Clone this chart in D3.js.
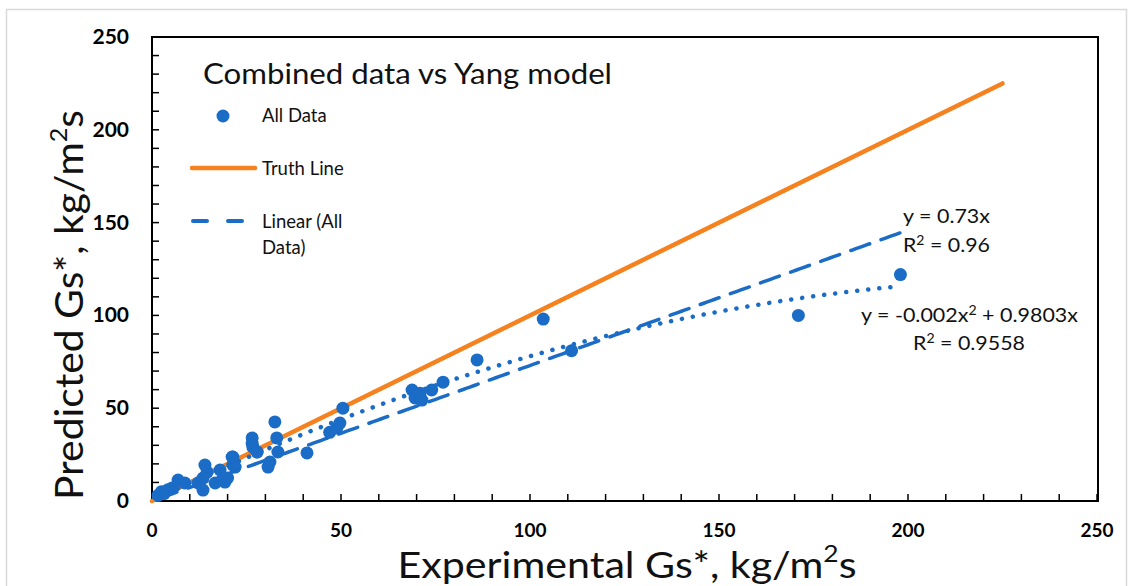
<!DOCTYPE html>
<html><head><meta charset="utf-8">
<script src="https://cdn.jsdelivr.net/npm/d3@7"></script>
<style>body{margin:0;background:#fff}svg{display:block}</style>
</head><body>
<svg id="c" width="1132" height="586"></svg>
<script>
// Data
const expX = [1.6,2.5,3.2,4.2,5.3,6.9,8.7,12.2,13.5,13.5,14.6,14,16.7,18,19.3,20,21.2,21.4,21.4,22,26.5,26.5,26.7,27.8,27.8,30.7,31.2,32.5,33,33.3,41,47,48.9,49.7,50.5,68.8,69.6,70.9,71.4,74,77,86,103.5,111,171,198];
const predY = [3,5,4,6,7,11.3,9.7,9.7,12.4,5.9,15.6,19.4,9.7,16.7,10.2,12.4,23.7,19.4,23.7,18.3,31,34,29,26.4,26.4,18.3,21,42.6,34,26.4,25.9,37,39.3,42,50,59.8,55.5,58,54.4,59.8,64,76,98,81,100,122];
const truthLine = [[0,0],[225,225]];
const linearSlope = 0.73;      // y = 0.73x
const polyA = -0.002, polyB = 0.9803; // y = -0.002x^2 + 0.9803x
const xTicks = [0,50,100,150,200,250];
const yTicks = [0,50,100,150,200,250];

const svg = d3.select("#c");
const blue = "#1a6cc6", orange = "#f5821f";
const font = "Lato, 'Open Sans', sans-serif";

// outer frame
svg.append("rect").attr("x",6.5).attr("y",9.5).attr("width",1120).attr("height",600)
  .attr("fill","#fff").attr("stroke","#d9d9d9").attr("stroke-width",1.5);

const x = d3.scaleLinear().domain([0,250]).range([152,1097]);
const y = d3.scaleLinear().domain([0,250]).range([501,37]);

// ticks (inside, every 10)
const g = svg.append("g");
const minor = d3.range(0,251,10);
g.selectAll(".xt").data(minor).join("line")
  .attr("x1",d=>x(d)).attr("x2",d=>x(d)).attr("y1",y(0)).attr("y2",y(0)-7)
  .attr("stroke","#000").attr("stroke-width",1.5);
g.selectAll(".yt").data(minor).join("line")
  .attr("y1",d=>y(d)).attr("y2",d=>y(d)).attr("x1",x(0)).attr("x2",x(0)+7)
  .attr("stroke","#000").attr("stroke-width",1.5);

// plot box
svg.append("rect").attr("x",x(0)).attr("y",y(250)).attr("width",x(250)-x(0)+1).attr("height",y(0)-y(250))
  .attr("fill","none").attr("stroke","#000").attr("stroke-width",2);

// tick labels
svg.selectAll(".xl").data(xTicks).join("text")
  .attr("x",d=>x(d)).attr("y",537).attr("text-anchor","middle")
  .attr("font-family",font).attr("font-weight","bold").attr("font-size",19)
  .text(d=>d);
svg.selectAll(".yl").data(yTicks).join("text")
  .attr("x",129).attr("y",d=>y(d)+7).attr("text-anchor","end")
  .attr("font-family",font).attr("font-weight","bold").attr("font-size",21)
  .text(d=>d);

// truth line
svg.append("line").attr("x1",x(truthLine[0][0])).attr("y1",y(truthLine[0][1]))
  .attr("x2",x(truthLine[1][0])).attr("y2",y(truthLine[1][1]))
  .attr("stroke",orange).attr("stroke-width",4.5).attr("stroke-linecap","round");

// points
svg.selectAll(".pt").data(expX).join("circle")
  .attr("cx",d=>x(d)).attr("cy",(d,i)=>y(predY[i])).attr("r",6.5).attr("fill",blue);

// trendlines
const xMin = d3.min(expX), xMax = d3.max(expX);
const xs = d3.range(xMin, xMax+0.001, (xMax-xMin)/200);
const lineGen = d3.line().x(d=>x(d[0])).y(d=>y(d[1]));
svg.append("path").attr("d",lineGen(xs.map(v=>[v,linearSlope*v])))
  .attr("fill","none").attr("stroke",blue).attr("stroke-width",3.5)
  .attr("stroke-dasharray","20,12").attr("stroke-linecap","round");
svg.append("path").attr("d",lineGen(xs.map(v=>[v,polyA*v*v+polyB*v])))
  .attr("fill","none").attr("stroke",blue).attr("stroke-width",4.5)
  .attr("stroke-dasharray","0.1,11").attr("stroke-linecap","round");

// title
svg.append("text").attr("x",203).attr("y",84).attr("font-family",font).attr("font-size",29)
  .attr("textLength",409).attr("lengthAdjust","spacingAndGlyphs")
  .attr("fill","#111").text("Combined data vs Yang model");

// legend
svg.append("circle").attr("cx",223).attr("cy",116).attr("r",6.5).attr("fill",blue);
svg.append("line").attr("x1",192).attr("x2",255).attr("y1",168).attr("y2",168)
  .attr("stroke",orange).attr("stroke-width",4.5).attr("stroke-linecap","round");
svg.append("line").attr("x1",193).attr("x2",242).attr("y1",221).attr("y2",221)
  .attr("stroke",blue).attr("stroke-width",4).attr("stroke-dasharray","14,21").attr("stroke-linecap","round");
const leg = [["All Data",122],["Truth Line",175],["Linear (All",228],["Data)",254]];
svg.selectAll(".lg").data(leg).join("text").attr("x",262).attr("y",d=>d[1])
  .attr("font-family",font).attr("font-size",18.5).attr("fill","#111").text(d=>d[0]);

// equations
function eq(xp, yp, parts, len){
  const t = svg.append("text").attr("x",xp).attr("y",yp).attr("font-family",font)
    .attr("font-size",19).attr("fill","#111");
  if (len) t.attr("textLength",len).attr("lengthAdjust","spacingAndGlyphs");
  parts.forEach(p=>{
    if (p.sup) t.append("tspan").attr("font-size",12.5).attr("dy",-7).text(p.t);
    else t.append("tspan").attr("dy",p.after?7:0).text(p.t);
  });
}
eq(903,223,[{t:"y = 0.73x"}],87);
eq(903,252,[{t:"R"},{t:"2",sup:true},{t:" = 0.96",after:true}],87);
eq(861,322,[{t:"y = -0.002x"},{t:"2",sup:true},{t:" + 0.9803x",after:true}],217);
eq(913,350,[{t:"R"},{t:"2",sup:true},{t:" = 0.9558",after:true}],112);

// axis titles
const xt = svg.append("text").attr("x",627).attr("y",577.5).attr("text-anchor","middle")
  .attr("font-family",font).attr("font-size",37.5).attr("fill","#111")
  .attr("textLength",459).attr("lengthAdjust","spacingAndGlyphs");
xt.append("tspan").text("Experimental Gs*, kg/m");
xt.append("tspan").attr("font-size",24).attr("dy",-16).text("2");
xt.append("tspan").attr("dy",16).text("s");

const yt = svg.append("text").attr("transform","translate(83,305) rotate(-90)")
  .attr("text-anchor","middle").attr("font-family",font).attr("font-size",39).attr("fill","#111")
  .attr("textLength",390).attr("lengthAdjust","spacingAndGlyphs");
yt.append("tspan").text("Predicted Gs*, kg/m");
yt.append("tspan").attr("font-size",24).attr("dy",-16).text("2");
yt.append("tspan").attr("dy",16).text("s");
</script>
</body></html>
